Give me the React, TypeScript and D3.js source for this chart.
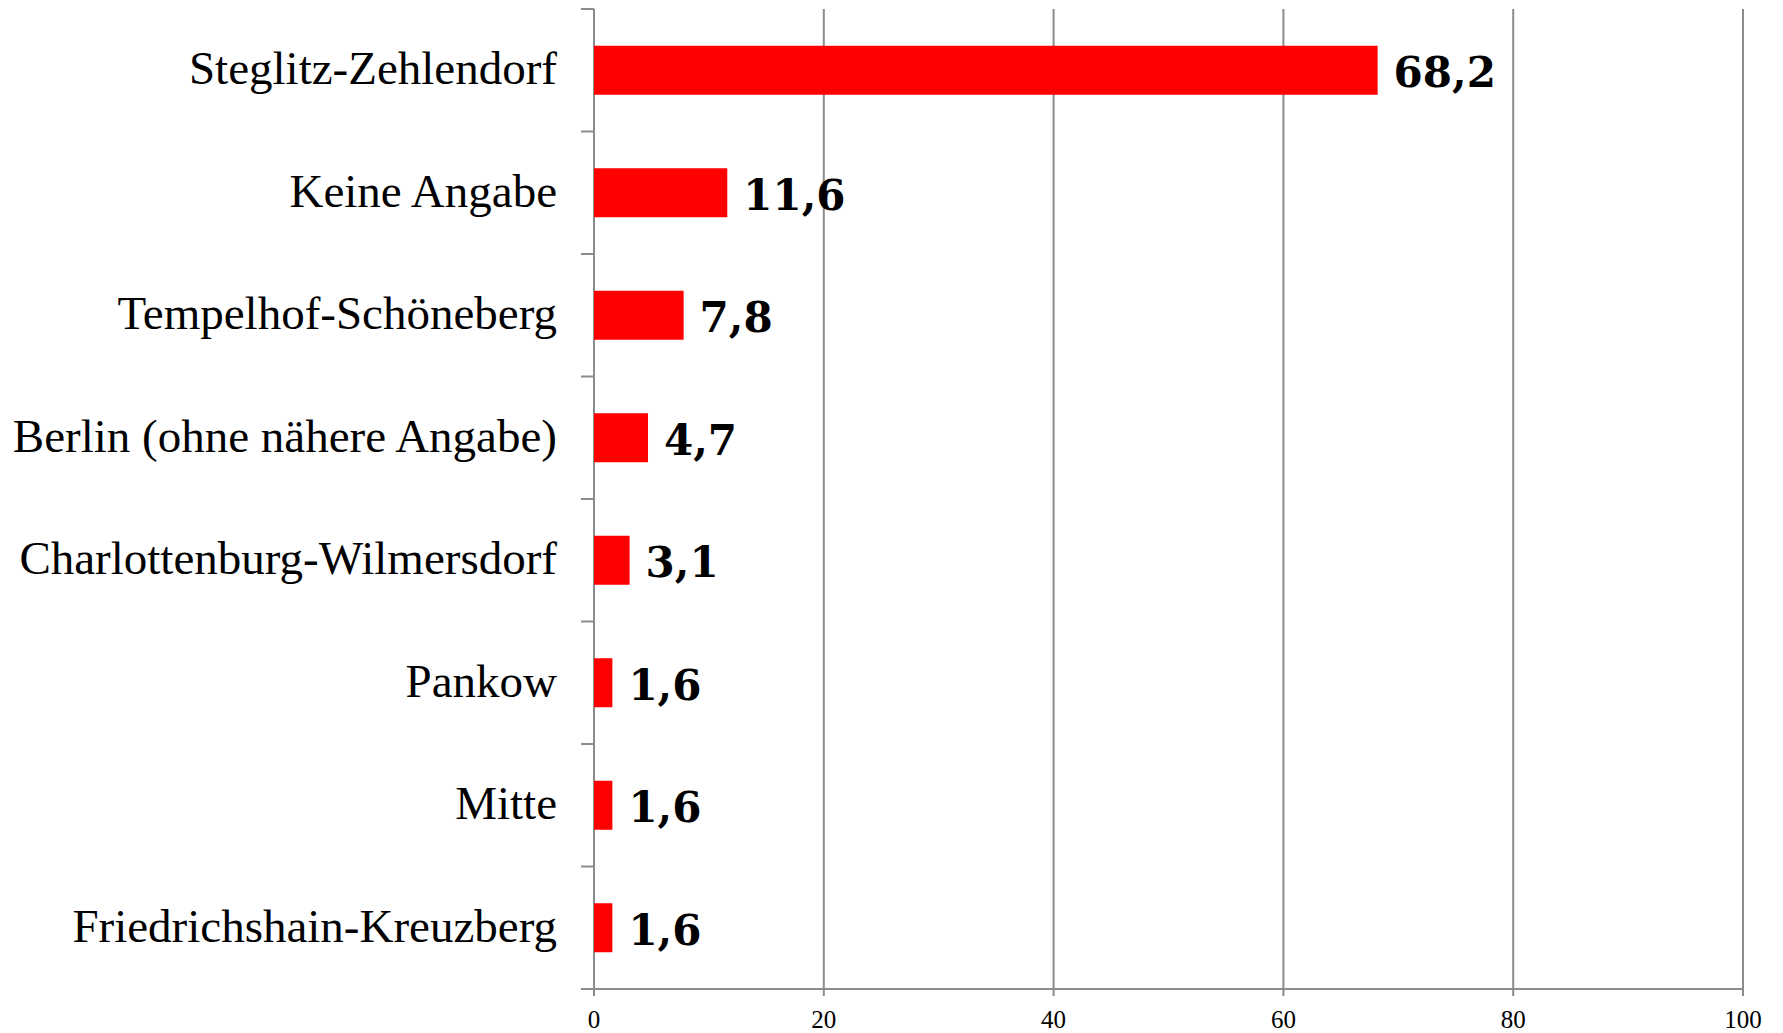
import React from "react";
import * as d3 from "d3";

const categories = [
  "Steglitz-Zehlendorf",
  "Keine Angabe",
  "Tempelhof-Schöneberg",
  "Berlin (ohne nähere Angabe)",
  "Charlottenburg-Wilmersdorf",
  "Pankow",
  "Mitte",
  "Friedrichshain-Kreuzberg",
];
const values = [68.2, 11.6, 7.8, 4.7, 3.1, 1.6, 1.6, 1.6];
const xTicks = [0, 20, 40, 60, 80, 100];

const W = 1783;
const H = 1033;
const left = 594;
const right = 1743;
const top = 9;
const bottom = 989;
const grid = "#8c8c8c";
const serif = "'Liberation Serif', 'Times New Roman', serif";
const bold = "'DejaVu Serif', serif";

export default function App() {
  const x = d3.scaleLinear().domain([0, 100]).range([left, right]);
  const y = d3
    .scaleBand<string>()
    .domain(categories)
    .range([top, bottom])
    .paddingInner(0.6)
    .paddingOuter(0.3);
  const step = y.step();
  const fmt = (v: number) => v.toFixed(1).replace(".", ",");
  const boundaries = d3.range(categories.length + 1).map((i) => top + i * step);

  return (
    <svg
      width={W}
      height={H}
      style={{ position: "absolute", left: 0, top: 0, background: "#fff" }}
    >
      {xTicks.map((t) => (
        <g key={t}>
          {t > 0 && (
            <line x1={x(t)} x2={x(t)} y1={top} y2={bottom} stroke={grid} strokeWidth={2} />
          )}
          <line x1={x(t)} x2={x(t)} y1={bottom} y2={bottom + 7} stroke={grid} strokeWidth={2} />
          <text
            x={x(t)}
            y={1028}
            textAnchor="middle"
            fontFamily={serif}
            fontSize={25}
            fill="#000"
          >
            {t}
          </text>
        </g>
      ))}
      {boundaries.map((b, i) => (
        <line key={i} x1={left - 13} x2={left} y1={b} y2={b} stroke={grid} strokeWidth={2} />
      ))}
      <line x1={left} x2={left} y1={top} y2={bottom} stroke={grid} strokeWidth={2} />
      <line x1={left - 13} x2={right} y1={bottom} y2={bottom} stroke={grid} strokeWidth={2} />
      {categories.map((c, i) => {
        const yc = (y(c) as number) + y.bandwidth() / 2;
        return (
          <g key={c}>
            <rect
              x={x(0)}
              y={y(c)}
              width={x(values[i]) - x(0)}
              height={y.bandwidth()}
              fill="#ff0000"
            />
            <text
              x={557}
              y={yc + 14}
              textAnchor="end"
              fontFamily={serif}
              fontSize={47}
              fill="#000"
            >
              {c}
            </text>
            <text
              x={x(values[i]) + 16}
              y={yc + 17}
              fontFamily={bold}
              fontWeight="bold"
              fontSize={42}
              fill="#000"
            >
              {fmt(values[i])}
            </text>
          </g>
        );
      })}
    </svg>
  );
}
